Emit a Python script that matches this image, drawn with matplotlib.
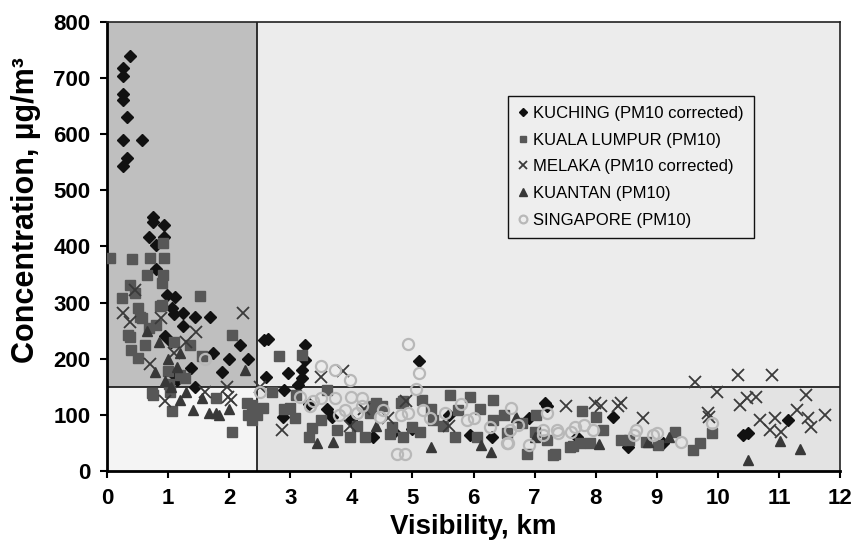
import numpy as np
import matplotlib
matplotlib.use("Agg")
import matplotlib.pyplot as plt
from matplotlib.patches import Rectangle

plt.rcParams['font.family'] = ['Liberation Sans', 'DejaVu Sans']

# Kuching (PM10 corrected)
kch_x = [0.38, 0.26, 0.26, 0.26, 0.26, 0.32, 0.26, 0.57, 0.32, 0.26,
         0.76, 0.76, 0.94, 0.68, 0.94, 0.81, 0.81, 0.98, 1.12, 1.06, 1.25, 1.1, 1.44, 1.69, 1.25,
         2.18, 1.74, 2.0, 2.31, 1.37, 1.88, 1.44, 1.14, 1.12, 0.95, 1.05,
         2.57, 2.64, 3.24, 3.24, 2.61, 2.97, 3.19, 3.2, 3.13, 2.9, 3.68, 2.88, 4.35, 5.1,
         7.17, 7.2, 8.28, 8.53, 10.41, 10.5, 11.15, 5.94, 4.7, 5.0, 6.3, 3.3, 3.6, 5.6, 6.9,
         4.0, 9.1, 7.7]
kch_y = [740, 717, 703, 672, 661, 631, 589, 589, 558, 544,
         453, 443, 438, 417, 417, 403, 360, 314, 310, 290, 282, 280, 274, 274, 258,
         224, 210, 200, 200, 183, 177, 150, 162, 170, 240, 230,
         233, 235, 225, 198, 168, 174, 165, 180, 153, 145, 97, 97, 61, 196,
         121, 116, 97, 43, 64, 68, 91, 64, 70, 75, 60, 120, 110, 100, 95,
         90, 50, 60]

# Kuala Lumpur (PM10)
kl_x = [0.05, 0.41, 0.70, 0.93, 0.92, 0.65, 0.92, 0.38, 0.46, 0.24, 1.52, 0.9, 0.9, 0.38,
        0.57, 0.4, 0.5, 2.04, 1.36, 1.55, 1.0, 1.19, 0.73, 1.06, 1.79, 2.04, 2.29, 2.37,
        2.56, 2.82, 3.19, 0.68, 0.87, 0.35, 0.54, 0.75, 1.03, 1.02, 1.28, 2.37, 2.3, 0.62,
        0.8, 1.1, 0.5,
        2.45, 3.0, 3.08, 3.35, 3.76, 3.98, 4.22, 4.36, 4.5, 4.82, 4.85, 4.64, 4.41, 4.85,
        5.15, 5.61, 5.94, 6.32, 7.03, 5.12, 5.7, 6.05, 6.54, 6.87, 7.3, 7.74, 7.9, 7.62,
        6.32, 6.79, 5.34, 5.75, 4.3, 4.66, 5.0, 5.5, 7.77, 8.01, 8.12, 8.42, 8.55, 8.83,
        9.02, 9.3, 9.6, 7.33, 7.58, 9.7, 9.9, 3.5, 2.7, 3.6, 6.1, 6.5, 7.2, 7.0, 5.3,
        4.1, 3.3, 3.1, 2.9]
kl_y = [380, 378, 380, 380, 406, 349, 349, 331, 317, 308, 312, 335, 296, 239,
        272, 216, 201, 242, 224, 204, 178, 171, 138, 106, 130, 70, 121, 91,
        112, 204, 207, 254, 293, 242, 275, 136, 140, 155, 165, 118, 100, 225,
        260, 230, 290,
        100, 112, 94, 76, 73, 61, 61, 115, 115, 121, 61, 66, 121, 124,
        127, 135, 132, 127, 100, 70, 61, 61, 67, 31, 28, 49, 49, 45,
        91, 85, 91, 109, 103, 79, 78, 80, 106, 97, 73, 55, 55, 52,
        46, 70, 37, 31, 43, 49, 67, 90, 140, 145, 110, 100, 55, 70, 110,
        80, 60, 135, 110]

# Melaka (PM10 corrected)
mlk_x = [0.26, 0.45, 1.45, 2.23, 0.88, 0.37, 0.95, 1.96, 1.98, 2.03, 2.86, 3.87, 3.51,
         3.98, 4.9, 7.52, 7.99, 8.09, 8.37, 8.42, 8.78, 9.62, 9.98, 10.33, 10.88, 10.36,
         10.47, 10.63, 9.84, 9.86, 10.69, 10.85, 10.93, 11.04, 11.29, 11.45, 11.48, 11.53,
         11.75, 1.1, 0.7, 1.6, 2.5, 4.2, 4.6, 5.6, 1.3]
mlk_y = [282, 323, 247, 282, 272, 265, 124, 150, 132, 127, 73, 178, 168,
         80, 124, 115, 121, 115, 115, 121, 94, 158, 141, 171, 171, 117,
         130, 132, 103, 96, 91, 73, 94, 70, 109, 135, 94, 79,
         100, 210, 190, 140, 150, 110, 95, 80, 230]

# Kuantan (PM10)
ktn_x = [1.19, 0.79, 2.26, 1.55, 1.19, 1.4, 1.67, 1.78, 1.84, 3.43, 3.7, 5.31, 6.13, 6.29,
         8.06, 8.86, 10.5, 11.01, 11.34, 0.66, 0.85, 1.0, 1.05, 0.95, 1.3, 6.7, 4.4, 7.0,
         9.2, 2.0, 1.15]
ktn_y = [210, 177, 180, 130, 127, 109, 104, 103, 100, 50, 51, 42, 46, 34,
         48, 52, 20, 54, 40, 250, 230, 200, 150, 160, 140, 97, 80, 60,
         60, 110, 185]

# Singapore (PM10)
sgp_x = [4.93, 5.1, 5.06, 4.74, 3.98, 4.0, 4.17, 4.52, 4.93, 5.18, 5.29, 5.53, 5.89, 6.27,
         6.6, 6.73, 6.62, 6.9, 7.14, 7.14, 7.39, 7.66, 7.8, 7.96, 6.54, 3.9, 4.17, 4.47,
         4.82, 3.51, 3.73, 3.16, 3.32, 3.51, 3.73, 4.1, 3.8, 3.38, 1.6, 7.36, 7.6, 8.94,
         9.4, 8.66, 8.63, 9.9, 9.0, 7.2, 6.57, 4.88, 2.5, 5.8, 6.0]
sgp_y = [226, 174, 146, 30, 162, 132, 130, 109, 103, 109, 94, 103, 90, 79,
         73, 82, 112, 46, 73, 64, 67, 79, 82, 73, 49, 109, 115, 97,
         100, 187, 180, 132, 115, 130, 130, 103, 100, 124, 200, 73, 70, 64,
         52, 73, 64, 85, 67, 103, 49, 31, 140, 120, 95]

x_split = 2.45
y_split = 150

fig = plt.figure(figsize=(8.52, 5.47), dpi=100)
ax = fig.add_axes([0.1256, 0.139, 0.8604, 0.821])

# shaded quadrants
ax.add_patch(Rectangle((0, y_split), x_split, 800 - y_split, facecolor='#bfbfbf', edgecolor='none', zorder=0))
ax.add_patch(Rectangle((x_split, y_split), 12 - x_split, 800 - y_split, facecolor='#ececec', edgecolor='none', zorder=0))
ax.add_patch(Rectangle((0, 0), x_split, y_split, facecolor='#f4f4f4', edgecolor='none', zorder=0))
ax.add_patch(Rectangle((x_split, 0), 12 - x_split, y_split, facecolor='#e3e3e3', edgecolor='none', zorder=0))
ax.axvline(x_split, color='#222222', lw=1.3, zorder=1)
ax.axhline(y_split, color='#222222', lw=1.3, zorder=1)

ax.plot(kch_x, kch_y, 'D', ms=6.5, color='#111111', mec='#111111', ls='none',
        label='KUCHING (PM10 corrected)', zorder=3)
ax.plot(kl_x, kl_y, 's', ms=7, color='#575757', mec='#575757', ls='none',
        label='KUALA LUMPUR (PM10)', zorder=3)
ax.plot(mlk_x, mlk_y, 'x', ms=8, mew=1.3, color='#3a3a3a', ls='none',
        label='MELAKA (PM10 corrected)', zorder=3)
ax.plot(ktn_x, ktn_y, '^', ms=7.5, color='#383838', mec='#383838', ls='none',
        label='KUANTAN (PM10)', zorder=3)
ax.plot(sgp_x, sgp_y, 'o', ms=8, mfc='none', mec='#b8b8b8', mew=1.6, ls='none',
        label='SINGAPORE (PM10)', zorder=4)

ax.set_xlim(0, 12)
ax.set_ylim(0, 800)
ax.set_xticks(np.arange(0, 13, 1))
ax.set_yticks(np.arange(0, 801, 100))
ax.tick_params(direction='out', length=5, width=1.5, labelsize=16, pad=7)
for lab in ax.get_xticklabels() + ax.get_yticklabels():
    lab.set_fontweight('bold')

for s in ['left', 'bottom']:
    ax.spines[s].set_linewidth(2)
for s in ['top', 'right']:
    ax.spines[s].set_linewidth(1.2)
    ax.spines[s].set_color('#222222')

ax.set_xlabel('Visibility, km', fontsize=20, fontweight='bold', labelpad=4)
ax.set_ylabel('Concentration, µg/m³', fontsize=22, fontweight='bold')
ax.yaxis.set_label_coords(-0.09, 0.58)

leg = ax.legend(loc='upper left', bbox_to_anchor=(0.547, 0.835), borderaxespad=0,
                fontsize=12, frameon=True, fancybox=False, edgecolor='#111111',
                facecolor='#eeeeee', framealpha=1, markerscale=0.7, handlelength=0.6,
                handletextpad=0.3, labelspacing=0.7, borderpad=0.6)
leg.get_frame().set_linewidth(1.0)

fig.savefig('out.png', dpi=100)
